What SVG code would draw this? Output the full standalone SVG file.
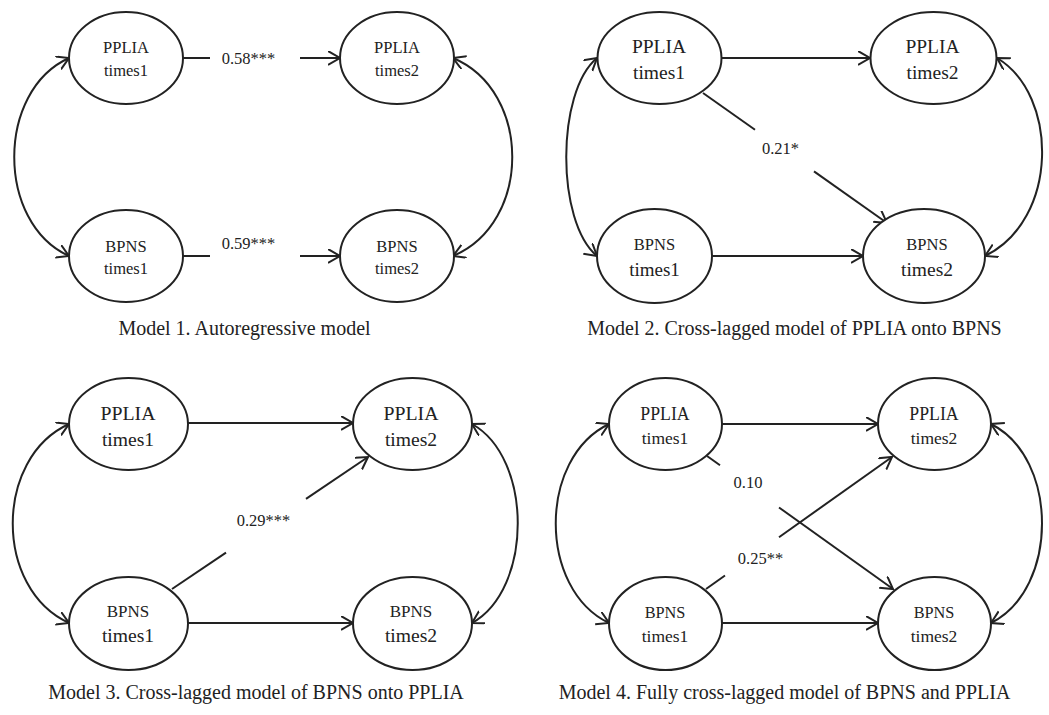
<svg xmlns="http://www.w3.org/2000/svg" width="1049" height="715" viewBox="0 0 1049 715">
<defs>
<marker id="ah" markerUnits="userSpaceOnUse" markerWidth="16" markerHeight="16" refX="12" refY="7" orient="auto-start-reverse" viewBox="0 0 16 16">
<path d="M0,0 L12,7 L0,14" fill="none" stroke="#222" stroke-width="2"/>
</marker>
</defs>
<style>
.n{fill:#fff;stroke:#222;stroke-width:2}
.t{font-family:"Liberation Serif","Times New Roman",serif;fill:#222;text-anchor:middle}
.c{fill:none;stroke:#222;stroke-width:2}
.a{marker-end:url(#ah)}
.b{marker-start:url(#ah);marker-end:url(#ah)}
.cap{font-family:"Liberation Serif","Times New Roman",serif;fill:#222;text-anchor:middle;font-size:20px}
.l{font-family:"Liberation Serif","Times New Roman",serif;fill:#222;text-anchor:middle;font-size:16.5px}
</style>
<rect width="1049" height="715" fill="#fff"/>

<g id="connectors">
<!-- Model 1 -->
<line class="c" x1="183" y1="58" x2="210" y2="58"/>
<line class="c a" x1="300" y1="58" x2="340" y2="58"/>
<line class="c" x1="183" y1="256" x2="210" y2="256"/>
<line class="c a" x1="300" y1="256" x2="340" y2="256"/>
<path class="c b" d="M69,58 C-4,91 -4,223 69,256"/>
<path class="c b" d="M453,58 C532,91 532,223 453,256"/>
<!-- Model 2 -->
<line class="c a" x1="722" y1="58" x2="870" y2="58"/>
<line class="c a" x1="712" y1="256" x2="863" y2="256"/>
<line class="c" x1="703" y1="93" x2="755" y2="129.7"/>
<line class="c a" x1="814" y1="171.4" x2="887" y2="223"/>
<path class="c b" d="M597,58 C556,92 556,222 597,256"/>
<path class="c b" d="M997,58 C1059,95 1059,220 985,256"/>
<!-- Model 3 -->
<line class="c a" x1="188" y1="423" x2="353" y2="423"/>
<line class="c a" x1="188" y1="623" x2="353" y2="623"/>
<line class="c" x1="172" y1="589" x2="226" y2="552.6"/>
<line class="c a" x1="306" y1="498.8" x2="368" y2="457"/>
<path class="c b" d="M69,424 C-6,458 -6,589 69,623"/>
<path class="c b" d="M472,424 C533,458 533,589 472,623"/>
<!-- Model 4 -->
<line class="c a" x1="722" y1="424" x2="878" y2="424"/>
<line class="c a" x1="722" y1="623" x2="878" y2="623"/>
<line class="c" x1="707" y1="456" x2="720" y2="465.3"/>
<line class="c a" x1="779" y1="507.5" x2="893" y2="589"/>
<line class="c" x1="706" y1="589" x2="725" y2="575.5"/>
<line class="c a" x1="779" y1="537.2" x2="892" y2="457"/>
<path class="c b" d="M609,424 C538,458 538,589 609,623"/>
<path class="c b" d="M991,424 C1059,458 1059,589 991,623"/>
</g>

<g id="labels">
<text class="l" x="248.5" y="64">0.58***</text>
<text class="l" x="248.5" y="249">0.59***</text>
<text class="l" x="780.5" y="154">0.21*</text>
<text class="l" x="263.5" y="526">0.29***</text>
<text class="l" x="748" y="488">0.10</text>
<text class="l" x="760.5" y="564">0.25**</text>
</g>

<!-- Model 1 nodes -->
<g id="m1-pplia-t1"><ellipse class="n" cx="126" cy="58" rx="57" ry="46"/><text class="t" x="126" y="53" font-size="16.5">PPLIA</text><text class="t" x="126" y="76" font-size="16.5">times1</text></g>
<g id="m1-pplia-t2"><ellipse class="n" cx="397" cy="58" rx="57" ry="46"/><text class="t" x="397" y="53" font-size="16.5">PPLIA</text><text class="t" x="397" y="76" font-size="16.5">times2</text></g>
<g id="m1-bpns-t1"><ellipse class="n" cx="126" cy="256" rx="57" ry="46"/><text class="t" x="126" y="252" font-size="16.5">BPNS</text><text class="t" x="126" y="274" font-size="16.5">times1</text></g>
<g id="m1-bpns-t2"><ellipse class="n" cx="397" cy="256" rx="57" ry="46"/><text class="t" x="397" y="252" font-size="16.5">BPNS</text><text class="t" x="397" y="274" font-size="16.5">times2</text></g>

<!-- Model 2 nodes -->
<g id="m2-pplia-t1"><ellipse class="n" cx="659.5" cy="58" rx="62" ry="46"/><text class="t" x="659" y="53" font-size="19.5">PPLIA</text><text class="t" x="659" y="79" font-size="19.5">times1</text></g>
<g id="m2-pplia-t2"><ellipse class="n" cx="933.5" cy="58" rx="63" ry="46"/><text class="t" x="932.5" y="53" font-size="19.5">PPLIA</text><text class="t" x="932.5" y="79" font-size="19.5">times2</text></g>
<g id="m2-bpns-t1"><ellipse class="n" cx="654.5" cy="256" rx="57.5" ry="47"/><text class="t" x="654.5" y="250" font-size="16.5">BPNS</text><text class="t" x="654.5" y="276" font-size="19">times1</text></g>
<g id="m2-bpns-t2"><ellipse class="n" cx="924" cy="256" rx="61" ry="47"/><text class="t" x="927" y="250" font-size="16.5">BPNS</text><text class="t" x="927" y="276" font-size="19.5">times2</text></g>

<!-- Model 3 nodes -->
<g id="m3-pplia-t1"><ellipse class="n" cx="128.5" cy="424" rx="59.5" ry="46"/><text class="t" x="128" y="420" font-size="19.8">PPLIA</text><text class="t" x="128" y="446" font-size="19.6">times1</text></g>
<g id="m3-pplia-t2"><ellipse class="n" cx="412.5" cy="424" rx="59.5" ry="46"/><text class="t" x="411" y="420" font-size="19.8">PPLIA</text><text class="t" x="411" y="446" font-size="19.6">times2</text></g>
<g id="m3-bpns-t1"><ellipse class="n" cx="128.5" cy="623.5" rx="59.5" ry="46.5"/><text class="t" x="128" y="617" font-size="17">BPNS</text><text class="t" x="128" y="642" font-size="19.6">times1</text></g>
<g id="m3-bpns-t2"><ellipse class="n" cx="412.5" cy="623.5" rx="59.5" ry="46.5"/><text class="t" x="411" y="617" font-size="17">BPNS</text><text class="t" x="411" y="642" font-size="19.6">times2</text></g>

<!-- Model 4 nodes -->
<g id="m4-pplia-t1"><ellipse class="n" cx="665.5" cy="424" rx="56.5" ry="46"/><text class="t" x="665" y="420" font-size="17.8">PPLIA</text><text class="t" x="665" y="444" font-size="17.5">times1</text></g>
<g id="m4-pplia-t2"><ellipse class="n" cx="934.5" cy="424" rx="56.5" ry="46"/><text class="t" x="934" y="420" font-size="17.8">PPLIA</text><text class="t" x="934" y="444" font-size="17.5">times2</text></g>
<g id="m4-bpns-t1"><ellipse class="n" cx="665.5" cy="623.5" rx="56.5" ry="46.5"/><text class="t" x="665" y="618" font-size="16.3">BPNS</text><text class="t" x="665" y="642" font-size="17.5">times1</text></g>
<g id="m4-bpns-t2"><ellipse class="n" cx="934.5" cy="623.5" rx="56.5" ry="46.5"/><text class="t" x="934" y="618" font-size="16.3">BPNS</text><text class="t" x="934" y="642" font-size="17.5">times2</text></g>

<g id="captions">
<text class="cap" x="244.5" y="335">Model 1. Autoregressive model</text>
<text class="cap" x="794.5" y="335">Model 2. Cross-lagged model of PPLIA onto BPNS</text>
<text class="cap" x="256" y="699">Model 3. Cross-lagged model of BPNS onto PPLIA</text>
<text class="cap" x="784.5" y="699">Model 4. Fully cross-lagged model of BPNS and PPLIA</text>
</g>
</svg>
